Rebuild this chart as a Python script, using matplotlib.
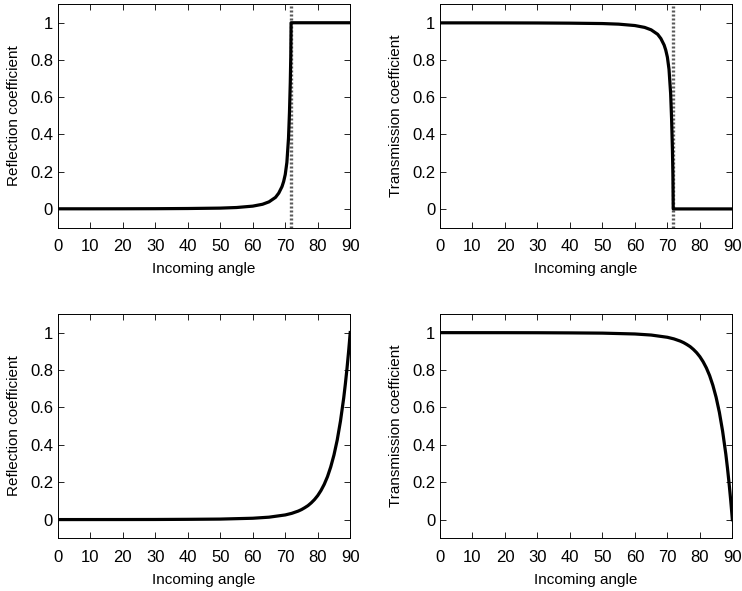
import matplotlib
matplotlib.use('Agg')
import matplotlib.pyplot as plt

plt.rcParams['font.family'] = ['Liberation Sans', 'DejaVu Sans']

# internal reflection (critical angle ~71.8 deg)
crit_angle = 71.8
int_angle = [0, 10, 20, 30, 40, 50, 55, 60, 63, 65, 67, 68, 69, 69.5, 70, 70.5, 71, 71.3, 71.55, 71.7, 71.8, 90]
int_refl = [0.0006, 0.0006, 0.0008, 0.0012, 0.0022, 0.0043, 0.0075, 0.015, 0.025, 0.038, 0.062,
            0.085, 0.12, 0.147, 0.185, 0.25, 0.38, 0.52, 0.68, 0.82, 1.0, 1.0]
int_trans = [0.9994, 0.9994, 0.9992, 0.9988, 0.9978, 0.9957, 0.9925, 0.985, 0.975, 0.962, 0.938,
             0.915, 0.88, 0.853, 0.815, 0.75, 0.62, 0.48, 0.32, 0.18, 0.0, 0.0]

# external reflection
ext_angle = [0, 10, 20, 30, 40, 50, 60, 65, 70, 72, 74, 75, 76, 77, 78, 79, 80, 81, 82, 83, 84,
             85, 86, 87, 88, 88.5, 89, 89.5, 89.75, 90]
ext_refl = [0.0006, 0.0007, 0.0008, 0.0011, 0.0019, 0.0032, 0.0077, 0.0134, 0.0254, 0.0339, 0.046,
            0.054, 0.064, 0.0752, 0.090, 0.1075, 0.129, 0.156, 0.189, 0.230, 0.282,
            0.346, 0.426, 0.527, 0.651, 0.725, 0.807, 0.898, 0.948, 1.0]
ext_trans = [0.9994, 0.9993, 0.9992, 0.9989, 0.9981, 0.9968, 0.9923, 0.9866, 0.9746, 0.9661, 0.954,
             0.946, 0.936, 0.9248, 0.910, 0.8925, 0.871, 0.844, 0.811, 0.770, 0.718,
             0.654, 0.574, 0.473, 0.349, 0.275, 0.193, 0.102, 0.052, 0.0]

x_ticks = [0, 10, 20, 30, 40, 50, 60, 70, 80, 90]
y_ticks = [0, 0.2, 0.4, 0.6, 0.8, 1]
y_ticklabels = ['0', '0.2', '0.4', '0.6', '0.8', '1']

fig = plt.figure(figsize=(7.42, 5.91), dpi=100)

positions = [[0.078, 0.615, 0.394, 0.378], [0.593, 0.615, 0.394, 0.378],
             [0.078, 0.089, 0.394, 0.380], [0.593, 0.089, 0.394, 0.380]]

panels = [(int_angle, int_refl, 'Reflection coefficient', True),
          (int_angle, int_trans, 'Transmission coefficient', True),
          (ext_angle, ext_refl, 'Reflection coefficient', False),
          (ext_angle, ext_trans, 'Transmission coefficient', False)]

for pos, (xs, ys, ylabel, show_crit) in zip(positions, panels):
    ax = fig.add_axes(pos)
    if show_crit:
        ax.axvline(crit_angle, color='0.35', lw=2.4, linestyle=(0, (0.6, 0.6)))
    ax.plot(xs, ys, color='black', lw=2.3)
    ax.set_xlim(0, 90)
    ax.set_ylim(-0.1, 1.1)
    ax.set_xticks(x_ticks)
    ax.set_yticks(y_ticks)
    ax.set_yticklabels(y_ticklabels)
    ax.tick_params(direction='in', top=True, right=True, length=4, width=0.6, labelsize=12)
    ax.tick_params(axis='x', pad=8)
    ax.tick_params(axis='y', pad=3.5)
    for sp in ax.spines.values():
        sp.set_linewidth(0.7)
    ax.set_xlabel('Incoming angle', fontsize=11, labelpad=6)
    ax.set_ylabel(ylabel, fontsize=11)
    ax.yaxis.set_label_coords(-0.127, 0.5)

fig.savefig('out.png', dpi=100)
